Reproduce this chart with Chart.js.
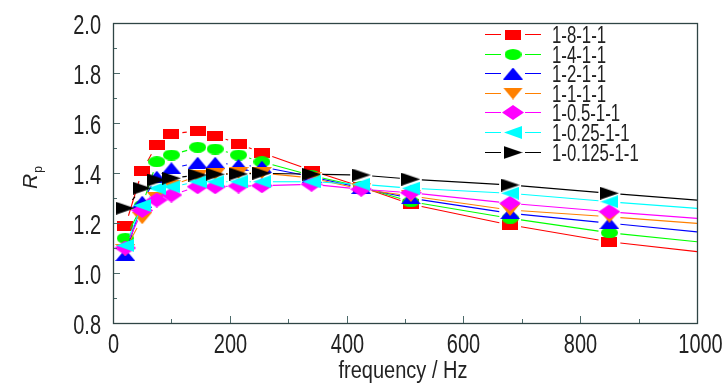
<!DOCTYPE html>
<html><head><meta charset="utf-8">
<script src="https://cdn.jsdelivr.net/npm/chart.js@4/dist/chart.umd.min.js"></script>
<style>html,body{margin:0;padding:0;background:#fff}#wrap{width:726px;height:390px;position:relative}</style>
</head><body><div id="wrap"><canvas id="c"></canvas></div>
<script>
// ---- data ----
const frequencies = [21, 50, 75, 100, 145, 175, 215, 255, 340, 425, 510, 680, 850, 1020];
const seriesNames = ['1-8-1-1', '1-4-1-1', '1-2-1-1', '1-1-1-1', '1-0.5-1-1', '1-0.25-1-1', '1-0.125-1-1'];
const rp_1_8 =     [1.187, 1.410, 1.513, 1.557, 1.568, 1.550, 1.517, 1.481, 1.410, 1.345, 1.275, 1.192, 1.125, 1.080];
const rp_1_4 =     [1.139, 1.270, 1.445, 1.472, 1.503, 1.496, 1.472, 1.445, 1.390, 1.345, 1.285, 1.219, 1.161, 1.120];
const rp_1_2 =     [1.072, 1.285, 1.385, 1.419, 1.441, 1.441, 1.432, 1.425, 1.385, 1.340, 1.299, 1.239, 1.199, 1.160];
const rp_1_1 =     [1.092, 1.219, 1.300, 1.350, 1.388, 1.395, 1.400, 1.400, 1.380, 1.335, 1.308, 1.252, 1.225, 1.195];
const rp_1_05 =    [1.100, 1.250, 1.292, 1.312, 1.345, 1.345, 1.348, 1.349, 1.355, 1.335, 1.321, 1.279, 1.245, 1.215];
const rp_1_025 =   [1.110, 1.270, 1.339, 1.345, 1.365, 1.365, 1.365, 1.365, 1.365, 1.355, 1.339, 1.319, 1.285, 1.255];
const rp_1_0125 =  [1.259, 1.339, 1.372, 1.379, 1.392, 1.395, 1.396, 1.399, 1.395, 1.392, 1.375, 1.352, 1.319, 1.288];
const seriesValues = [rp_1_8, rp_1_4, rp_1_2, rp_1_1, rp_1_05, rp_1_025, rp_1_0125];
const xMin = 0, xMax = 1000, xStep = 100, xLabelEvery = 200;
const yMin = 0.8, yMax = 2.0, yStep = 0.1;
const xTitle = 'frequency / Hz';
const yTitleMain = 'R', yTitleSub = 'p';

// ---- styles ----
const FAM = "'Liberation Sans', Arial, sans-serif";
const TXT = '#222';
const colors = ['#FF0000', '#00FF00', '#0000FF', '#FF8000', '#FF00FF', '#00FFFF', '#000000'];
const shapes = [['square', 16, 10], ['circle', 17, 11], ['up', 20, 12], ['down', 20, 12], ['diamond', 22, 15], ['left', 18, 13], ['right', 19, 13]];
const AXIS = '#2f4545';
const GAP = 11; // line gap around each marker (Origin "line with gap" look)

function makeMarker(shape, w, h, color) {
  const c = document.createElement('canvas'); c.width = w; c.height = h;
  const g = c.getContext('2d'); g.fillStyle = color; g.beginPath();
  if (shape === 'square') g.rect(0, 0, w, h);
  else if (shape === 'circle') g.ellipse(w / 2, h / 2, w / 2, h / 2, 0, 0, Math.PI * 2);
  else if (shape === 'up') { g.moveTo(w / 2, 0); g.lineTo(w, h); g.lineTo(0, h); }
  else if (shape === 'down') { g.moveTo(0, 0); g.lineTo(w, 0); g.lineTo(w / 2, h); }
  else if (shape === 'diamond') { g.moveTo(w / 2, 0); g.lineTo(w, h / 2); g.lineTo(w / 2, h); g.lineTo(0, h / 2); }
  else if (shape === 'left') { g.moveTo(0, h / 2); g.lineTo(w, 0); g.lineTo(w, h); }
  else if (shape === 'right') { g.moveTo(0, 0); g.lineTo(w, h / 2); g.lineTo(0, h); }
  g.closePath(); g.fill(); return c;
}
const markers = shapes.map((s, i) => makeMarker(s[0], s[1], s[2], colors[i]));

// draw horizontally condensed text (real text, scaled)
function ctext(ctx, text, x, y, size, align, sx, style) {
  ctx.save();
  ctx.translate(x, y); ctx.scale(sx, 1);
  ctx.font = (style ? style + ' ' : '') + size + 'px ' + FAM;
  ctx.textAlign = align; ctx.textBaseline = 'alphabetic'; ctx.fillStyle = TXT;
  ctx.fillText(text, 0, 0);
  ctx.restore();
}

function segLen(c) { return Math.hypot(c.p1.x - c.p0.x, c.p1.y - c.p0.y); }

const datasets = seriesNames.map((name, i) => ({
  label: name,
  data: frequencies.map((f, k) => ({ x: f, y: seriesValues[i][k] })),
  borderColor: colors[i],
  backgroundColor: colors[i],
  borderWidth: 1.1,
  pointStyle: markers[i],
  pointRadius: 8,
  pointHoverRadius: 8,
  pointBorderWidth: 0,
  tension: 0,
  clip: 0,
  order: seriesNames.length - i,
  segment: {
    borderDash: c => { const L = segLen(c); return [Math.max(L - 2 * GAP, 0.01), Math.min(2 * GAP, L)]; },
    borderDashOffset: c => -GAP
  }
}));

const frameAndTicks = {
  id: 'frameAndTicks',
  afterDatasetsDraw(chart) {
    const { ctx, chartArea: a, scales: { x, y } } = chart;
    ctx.save();
    ctx.strokeStyle = '#4d6b6b'; ctx.lineWidth = 1;
    y.ticks.forEach(t => {
      const py = Math.round(y.getPixelForValue(t.value)) + 0.5;
      const major = Math.round(t.value * 10) % 2 === 0;
      ctx.beginPath(); ctx.moveTo(a.left, py); ctx.lineTo(a.left + (major ? 7 : 4), py); ctx.stroke();
      if (major) ctext(ctx, t.value.toFixed(1), 101, py + 10.5, 27, 'right', 0.74);
    });
    x.ticks.forEach(t => {
      const px = Math.round(x.getPixelForValue(t.value)) + 0.5;
      const major = Math.round(t.value) % xLabelEvery === 0;
      ctx.beginPath(); ctx.moveTo(px, a.bottom); ctx.lineTo(px, a.bottom - (major ? 7 : 4)); ctx.stroke();
      if (major) ctext(ctx, String(Math.round(t.value)), px + (t.value === xMax ? 3 : 0), 353, 27, 'center', 0.74);
    });
    ctx.strokeStyle = AXIS; ctx.lineWidth = 1.3;
    ctx.strokeRect(Math.round(a.left) + 0.5, Math.round(a.top) + 0.5, Math.round(a.right - a.left), Math.round(a.bottom - a.top));
    // x title
    ctext(ctx, xTitle, (a.left + a.right) / 2 - 2, 378, 23, 'center', 0.87);
    // y title
    ctx.fillStyle = TXT;
    ctx.translate(37, 189); ctx.rotate(-Math.PI / 2);
    ctx.font = 'italic 21px ' + FAM;
    ctx.textBaseline = 'alphabetic'; ctx.textAlign = 'left';
    ctx.fillText(yTitleMain, 0, 0);
    const w = ctx.measureText(yTitleMain).width;
    ctx.font = '12px ' + FAM;
    ctx.fillText(yTitleSub, w + 1, 5);
    ctx.restore();
  }
};

const customLegend = {
  id: 'customLegend',
  afterDraw(chart) {
    const { ctx } = chart;
    ctx.save();
    chart.data.datasets.forEach((ds, i) => {
      const yy = Math.round(34 + i * 19.6) + 0.5;
      ctx.strokeStyle = ds.borderColor; ctx.lineWidth = 1.2;
      ctx.beginPath(); ctx.moveTo(485, yy); ctx.lineTo(501, yy); ctx.moveTo(525, yy); ctx.lineTo(541, yy); ctx.stroke();
      const m = ds.pointStyle;
      ctx.drawImage(m, 513 - m.width / 2, yy - m.height / 2);
      ctext(ctx, ds.label, 552, yy + 8.5, 23, 'left', 0.73);
    });
    ctx.restore();
  }
};

new Chart(document.getElementById('c'), {
  type: 'line',
  data: { datasets },
  options: {
    responsive: true, maintainAspectRatio: false, animation: false,
    layout: { padding: { top: 23, right: 29, left: 0, bottom: 0 } },
    plugins: { legend: { display: false }, tooltip: { enabled: false } },
    scales: {
      x: {
        type: 'linear', min: xMin, max: xMax,
        afterFit: s => { s.height = 67; },
        grid: { display: false, drawTicks: false },
        border: { display: false },
        ticks: { stepSize: xStep, display: false, autoSkip: false }
      },
      y: {
        type: 'linear', min: yMin, max: yMax,
        afterFit: s => { s.width = 113; },
        grid: { display: false, drawTicks: false },
        border: { display: false },
        ticks: { stepSize: yStep, display: false, autoSkip: false }
      }
    }
  },
  plugins: [frameAndTicks, customLegend]
});
</script></body></html>
